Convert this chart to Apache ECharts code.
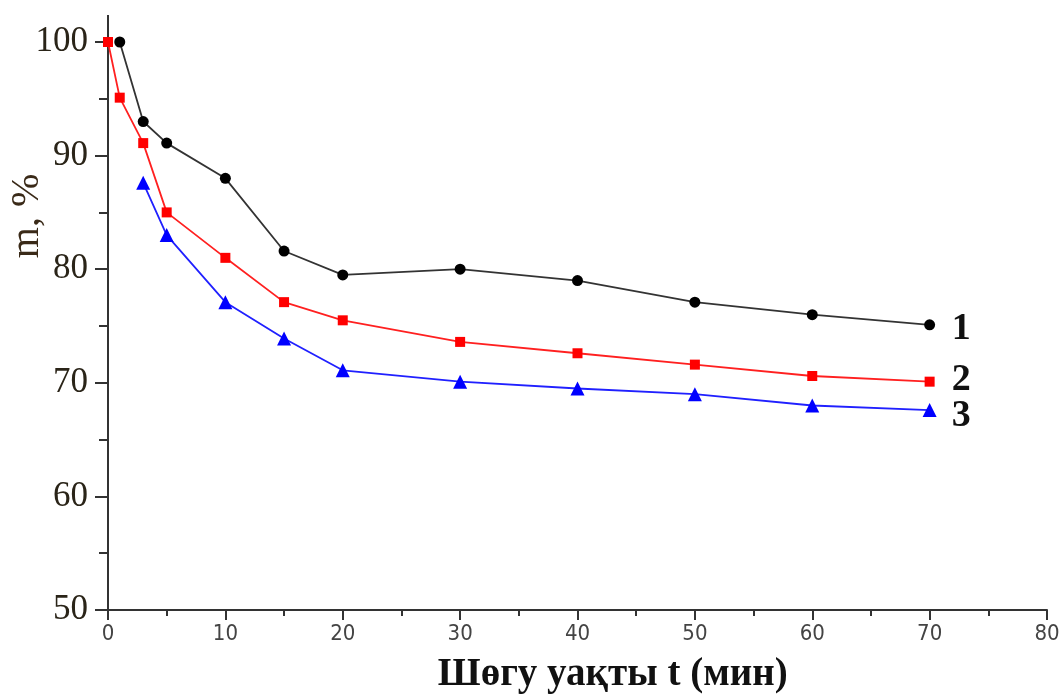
<!DOCTYPE html>
<html><head><meta charset="utf-8">
<script src="https://cdn.jsdelivr.net/npm/echarts@6/dist/echarts.min.js"></script>
<style>html,body{margin:0;padding:0;background:#fff}#c{width:1062px;height:695px}</style>
</head><body><div id="c"></div>
<script>
const s1 = [[1,100],[3,93],[5,91.1],[10,88],[15,81.6],[20,79.5],[30,80],[40,79],[50,77.1],[60,76],[70,75.1]];
const s2 = [[0,100],[1,95.1],[3,91.1],[5,85],[10,81],[15,77.1],[20,75.5],[30,73.6],[40,72.6],[50,71.6],[60,70.6],[70,70.1]];
const s3 = [[3,87.6],[5,83],[10,77.1],[15,73.9],[20,71.1],[30,70.1],[40,69.5],[50,69],[60,68],[70,67.6]];
const seriesNames = ['1','2','3'];
const xTitle = 'Шөгу уақты t (мин)';
const yTitle = 'm, %';

const chart = echarts.init(document.getElementById('c'));
function endLbl(txt, dy){
  return {show:true, formatter:txt, color:'#111', fontFamily:'Liberation Serif', fontWeight:'bold', fontSize:38, offset:[14,dy]};
}
chart.setOption({
  animation:false,
  grid:{left:108, right:15, top:42, bottom:85, outerBoundsMode:'none', containLabel:false},
  xAxis:{type:'value', min:0, max:80, interval:10,
    axisLine:{lineStyle:{color:'#333', width:2}},
    axisTick:{length:10, lineStyle:{color:'#333', width:2}},
    minorTick:{show:true, splitNumber:2, length:6, lineStyle:{color:'#333', width:2}},
    splitLine:{show:false},
    axisLabel:{color:'#444', fontFamily:'"Liberation Sans Narrow","DejaVu Sans Condensed","Liberation Sans"', fontSize:22, margin:13}
  },
  yAxis:{type:'value', min:50, max:100, interval:10,
    axisLine:{lineStyle:{color:'#333', width:2}},
    axisTick:{length:13, lineStyle:{color:'#333', width:2}},
    minorTick:{show:true, splitNumber:2, length:9, lineStyle:{color:'#333', width:2}},
    splitLine:{show:false},
    axisLabel:{color:'#2a2418', fontFamily:'Liberation Serif', fontSize:35, margin:20}
  },
  series:[
    {name:seriesNames[0], type:'line', data:s1, symbol:'circle', symbolSize:11,
     lineStyle:{color:'#333', width:1.8}, itemStyle:{color:'#000'}, endLabel:endLbl('1',4)},
    {name:seriesNames[1], type:'line', data:s2, symbol:'rect', symbolSize:10,
     lineStyle:{color:'#ff2020', width:1.8}, itemStyle:{color:'#ff0000'}, endLabel:endLbl('2',-1)},
    {name:seriesNames[2], type:'line', data:s3, symbol:'triangle', symbolSize:14,
     lineStyle:{color:'#2020ff', width:1.8}, itemStyle:{color:'#0000ff'}, endLabel:endLbl('3',6)}
  ]
});
const pTop = chart.convertToPixel({gridIndex:0},[0,100]);
const pBot = chart.convertToPixel({gridIndex:0},[0,50]);
const pMid = chart.convertToPixel({gridIndex:0},[43,50]);
chart.setOption({graphic:[
  {type:'line', shape:{x1:pTop[0], y1:pTop[1], x2:pTop[0], y2:pTop[1]-27}, style:{stroke:'#333', lineWidth:2}},
  {type:'text', x:27, y:216, rotation:Math.PI/2,
   style:{text:yTitle, fill:'#3a2a18', font:'40px "Liberation Serif"', textAlign:'center', textVerticalAlign:'middle'}},
  {type:'text', x:pMid[0], y:pBot[1]+65,
   style:{text:xTitle, fill:'#111', font:'bold 39px "Liberation Serif"', textAlign:'center', textVerticalAlign:'middle'}}
]});
</script></body></html>
